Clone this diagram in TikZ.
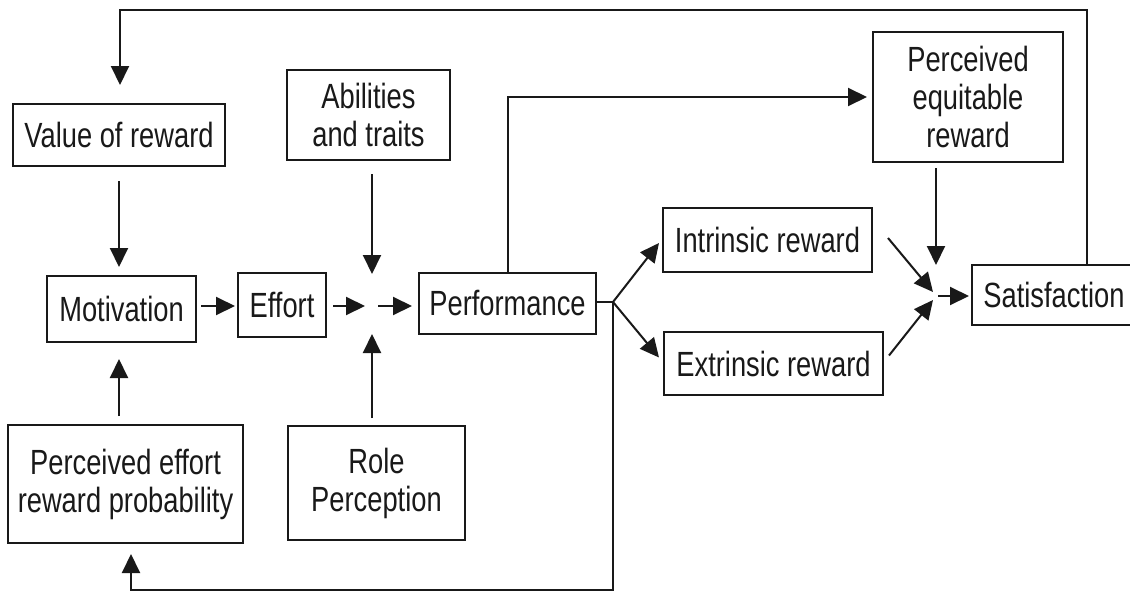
\documentclass[tikz,border=0pt]{standalone}
\usepackage{fontspec}
\setmainfont[FakeStretch=0.78]{Liberation Sans}
\usetikzlibrary{arrows.meta,calc}

\begin{document}
\begin{tikzpicture}[x=1pt, y=-1pt, line width=2pt, color=black!90,
  every node/.style={draw, line width=2pt, inner sep=0pt, align=center, font=\fontsize{35}{38}\selectfont},
  arr/.style={-{Triangle[length=19pt,width=18pt]}}]
\useasboundingbox (0,0) rectangle (1130,597);

\node[minimum width=212pt, minimum height=62pt] (value) at (119,135) {Value of reward};
\node[minimum width=163pt, minimum height=90pt] (abil) at (368.5,115) {Abilities\\and traits};
\node[minimum width=149pt, minimum height=66pt] (motiv) at (121.5,309) {Motivation};
\node[minimum width=88pt, minimum height=64pt] (effort) at (282,305) {Effort};
\node[minimum width=177pt, minimum height=61pt] (perf) at (507.5,303.5) {Performance};
\node[minimum width=235pt, minimum height=118pt] (pep) at (125.5,484) {Perceived effort\\reward probability};
\node[minimum width=177pt, minimum height=114pt] (role) at (376.5,483) {Role\\Perception};

\node[minimum width=190pt, minimum height=130pt] (peq) at (968,97) {Perceived\\equitable\\reward};
\node[minimum width=209pt, minimum height=64pt] (intr) at (767.5,240) {Intrinsic reward};
\node[minimum width=219pt, minimum height=63pt] (extr) at (773.5,363.5) {Extrinsic reward};
\node[minimum width=164pt, minimum height=60pt] (satis) at (1054,295) {Satisfaction};

\coordinate (j1) at (372,306);
\coordinate (j2) at (936,296);
\coordinate (fork) at (613,302);
\coordinate (tr) at (1087,10);
\coordinate (tl) at (120,10);
\coordinate (bl) at (131,590);

\draw[arr, shorten >=18pt] (satis.north -| tr) -- (tr) -- (tl) -- (tl |- value.north);
\draw[arr, shorten <=14pt, shorten >=8pt] (value.south) -- (value.south |- motiv.north);
\draw[arr, shorten <=8pt, shorten >=16pt] (value.south |- pep.north) -- (value.south |- motiv.south);

\draw[arr, shorten <=4pt, shorten >=2pt] (motiv.east |- j1) -- (effort.west |- j1);
\draw[arr, shorten <=6pt, shorten >=7pt] (effort.east |- j1) -- (j1);
\draw[arr, shorten <=6pt, shorten >=6pt] (j1) -- (perf.west |- j1);
\draw[arr, shorten <=13pt, shorten >=32pt] (abil.south -| j1) -- (j1);
\draw[arr, shorten <=7pt, shorten >=28pt] (role.north -| j1) -- (j1);

\draw[arr, shorten >=5pt] (perf.north) -- (perf.north |- peq.west) -- (peq.west);
\draw (perf.east |- fork) -- (fork);
\draw[arr] (fork) -- ($(intr.west)+(-3,3)$);
\draw[arr] (fork) -- ($(extr.west)+(-4,-6)$);
\draw[arr, shorten >=10pt] (fork) -- (fork |- bl) -- (bl) -- (bl |- pep.south);

\draw[arr, shorten <=5pt, shorten >=31pt] (peq.south -| j2) -- (j2);
\draw[arr] ($(intr.east)+(15,-2)$) -- ($(j2)+(-3,-4)$);
\draw[arr] ($(extr.east)+(5,-8)$) -- ($(j2)+(-3,4)$);
\draw[arr, shorten <=2pt, shorten >=2pt] (j2) -- (satis.west |- j2);
\end{tikzpicture}
\end{document}
